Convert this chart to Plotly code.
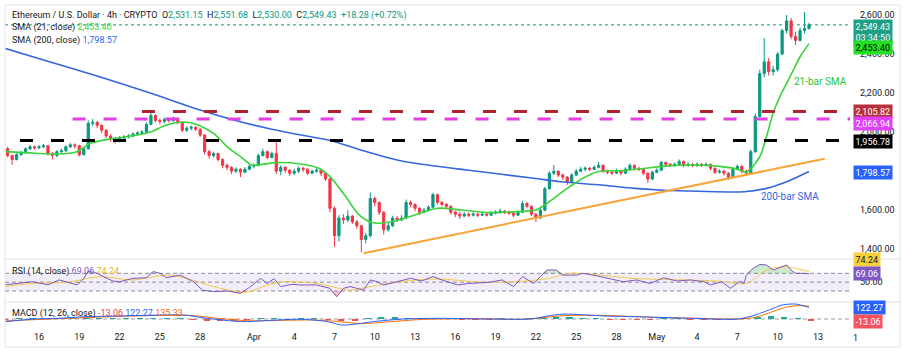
import numpy as np
import pandas as pd
import plotly.graph_objects as go

# ---------------- DATA ----------------
candle_start = "2025-03-13 16:00"   # 8h candles
first_open = 1915
closes = [1880,
          1860, 1885, 1895, 1915, 1925, 1920, 1925, 1930, 1890, 1880, 1900, 1905,
          1925, 1935, 1930, 1885, 1915, 2045, 2050, 2035, 2010, 1980, 1965, 1955,
          1970, 1975, 1980, 1990, 1995, 2000, 2040, 2085, 2060, 2055, 2065, 2060,
          2070, 2050, 2010, 2020, 2025, 2015, 1985, 1900, 1880, 1890, 1860, 1830,
          1820, 1800, 1810, 1795, 1810, 1825, 1830, 1880, 1900, 1870, 1890, 1800,
          1820, 1805, 1790, 1800, 1815, 1810, 1790, 1800, 1805, 1790, 1760, 1610,
          1470, 1560, 1550, 1570, 1540, 1520, 1450, 1470, 1660, 1640, 1590, 1500,
          1520, 1560, 1550, 1560, 1640, 1630, 1610, 1590, 1600, 1615, 1680, 1640,
          1630, 1620, 1590, 1580, 1570, 1580, 1575, 1580, 1575, 1580, 1575, 1585,
          1590, 1595, 1590, 1585, 1575, 1590, 1635, 1620, 1580, 1560, 1600, 1710,
          1790, 1800, 1780, 1770, 1745, 1780, 1800, 1810, 1815, 1810, 1820, 1830,
          1800, 1795, 1790, 1800, 1790, 1810, 1830, 1815, 1810, 1790, 1760, 1795,
          1805, 1845, 1835, 1830, 1835, 1850, 1830, 1835, 1830, 1835, 1830, 1835,
          1815, 1795, 1800, 1790, 1770, 1810, 1825, 1800, 1790, 1900, 2080, 2300,
          2360, 2310, 2320, 2400, 2520, 2570, 2490, 2470, 2520, 2531, 2549.43]
highs = [1925,
         1885, 1892, 1905, 1922, 1935, 1932, 1935, 1940, 1935, 1898, 1908, 1915,
         1932, 1945, 1942, 1935, 1925, 2060, 2068, 2058, 2040, 2015, 1990, 1975,
         1980, 1985, 1990, 2000, 2005, 2010, 2050, 2098, 2092, 2070, 2075, 2072,
         2080, 2075, 2055, 2030, 2035, 2030, 2020, 1990, 1910, 1900, 1895, 1865,
         1840, 1825, 1820, 1815, 1820, 1835, 1840, 1890, 1915, 1905, 1900, 1950,
         1830, 1825, 1810, 1812, 1825, 1822, 1815, 1808, 1815, 1812, 1795, 1765,
         1620, 1575, 1580, 1600, 1575, 1550, 1525, 1485, 1690, 1670, 1645, 1595,
         1535, 1572, 1570, 1575, 1655, 1650, 1635, 1615, 1612, 1625, 1690, 1685,
         1648, 1638, 1625, 1598, 1590, 1590, 1588, 1590, 1588, 1590, 1588, 1595,
         1600, 1608, 1602, 1598, 1590, 1600, 1648, 1642, 1625, 1585, 1610, 1720,
         1800, 1832, 1805, 1788, 1775, 1790, 1812, 1822, 1825, 1822, 1830, 1847,
         1835, 1808, 1800, 1812, 1808, 1820, 1840, 1835, 1822, 1815, 1795, 1802,
         1815, 1852, 1850, 1842, 1845, 1860, 1855, 1845, 1842, 1845, 1842, 1845,
         1838, 1820, 1810, 1808, 1795, 1818, 1835, 1830, 1808, 1910, 2095, 2320,
         2482, 2380, 2340, 2410, 2530, 2600, 2585, 2515, 2535, 2615, 2560]
lows = [1870,
        1832, 1855, 1878, 1890, 1908, 1910, 1912, 1918, 1880, 1860, 1872, 1890,
        1898, 1918, 1915, 1875, 1880, 1910, 2030, 2020, 1995, 1970, 1950, 1942,
        1948, 1960, 1968, 1975, 1982, 1988, 1995, 2035, 2050, 2040, 2045, 2048,
        2052, 2040, 2000, 2000, 2010, 2005, 1975, 1885, 1865, 1870, 1850, 1815,
        1805, 1785, 1790, 1770, 1790, 1805, 1815, 1825, 1875, 1860, 1865, 1785,
        1780, 1790, 1775, 1780, 1790, 1795, 1780, 1785, 1792, 1775, 1750, 1590,
        1412, 1440, 1530, 1540, 1530, 1505, 1385, 1430, 1460, 1620, 1575, 1475,
        1490, 1515, 1540, 1545, 1555, 1615, 1595, 1575, 1585, 1595, 1610, 1630,
        1620, 1605, 1578, 1565, 1555, 1565, 1565, 1568, 1565, 1570, 1568, 1570,
        1578, 1582, 1580, 1575, 1565, 1570, 1585, 1610, 1570, 1540, 1555, 1595,
        1705, 1780, 1770, 1755, 1730, 1740, 1775, 1795, 1800, 1800, 1805, 1815,
        1792, 1785, 1780, 1785, 1780, 1785, 1805, 1805, 1800, 1780, 1740, 1755,
        1790, 1800, 1825, 1820, 1822, 1830, 1820, 1822, 1820, 1822, 1820, 1825,
        1805, 1785, 1788, 1778, 1755, 1765, 1805, 1790, 1775, 1785, 1895, 2075,
        2280, 2290, 2290, 2310, 2395, 2505, 2475, 2446, 2465, 2505, 2525]

sma21_time = ["2025-03-13 12:00", "2025-03-15 16:00", "2025-03-17 08:00", "2025-03-18 20:00",
              "2025-03-19 20:00", "2025-03-21 16:00", "2025-03-23 08:00", "2025-03-24 08:00",
              "2025-03-25 12:00", "2025-03-26 20:00", "2025-03-27 20:00", "2025-03-29 00:00",
              "2025-03-30 00:00", "2025-03-31 04:00", "2025-03-31 20:00", "2025-04-02 16:00",
              "2025-04-04 12:00", "2025-04-05 20:00", "2025-04-06 16:00", "2025-04-07 20:00",
              "2025-04-08 20:00", "2025-04-09 20:00", "2025-04-11 08:00", "2025-04-13 00:00",
              "2025-04-14 16:00", "2025-04-16 12:00", "2025-04-18 12:00", "2025-04-20 16:00",
              "2025-04-22 00:00", "2025-04-22 20:00", "2025-04-24 04:00", "2025-04-25 12:00",
              "2025-04-26 16:00", "2025-04-28 12:00", "2025-04-30 04:00", "2025-05-01 20:00",
              "2025-05-03 12:00", "2025-05-05 08:00", "2025-05-07 00:00", "2025-05-07 16:00",
              "2025-05-08 16:00", "2025-05-09 04:00", "2025-05-09 16:00", "2025-05-10 04:00",
              "2025-05-10 16:00", "2025-05-11 04:00", "2025-05-11 16:00", "2025-05-12 08:00"]
sma21_vals = [1900, 1892, 1888, 1900, 1943, 1969, 1985, 2002, 2037, 2052, 2037, 1994,
              1926, 1866, 1832, 1844, 1837, 1815, 1772, 1670, 1576, 1536, 1542, 1576,
              1610, 1601, 1588, 1593, 1601, 1636, 1704, 1764, 1798, 1803, 1815, 1827,
              1832, 1827, 1810, 1795, 1874, 1977, 2098, 2182, 2250, 2318, 2386, 2453.40]

sma200_time = ["2025-03-13 08:00", "2025-03-16 08:00", "2025-03-20 12:00", "2025-03-24 08:00",
               "2025-03-28 00:00", "2025-03-30 12:00", "2025-04-02 00:00", "2025-04-04 12:00",
               "2025-04-06 20:00", "2025-04-08 20:00", "2025-04-11 20:00", "2025-04-14 08:00",
               "2025-04-16 20:00", "2025-04-21 20:00", "2025-04-23 20:00", "2025-04-26 20:00",
               "2025-04-29 08:00", "2025-05-01 04:00", "2025-05-04 04:00", "2025-05-07 12:00",
               "2025-05-09 04:00", "2025-05-10 16:00", "2025-05-12 08:00"]
sma200_vals = [2432, 2370, 2284, 2199, 2113, 2062, 2020, 1985, 1955, 1911, 1855, 1828,
               1806, 1764, 1746, 1729, 1712, 1704, 1697, 1695, 1712, 1746, 1798.57]

level_prices = [2105.82, 2066.94, 1956.78]
level_starts = ["2025-03-23 16:00", "2025-03-18 12:00", "2025-03-14 14:00"]

trend_time = ["2025-04-09 04:00", "2025-05-13 12:00"]
trend_vals = [1380, 1864]

rsi_time = ["2025-03-13 12:00", "2025-03-14 08:00", "2025-03-15 12:00", "2025-03-16 16:00",
            "2025-03-17 12:00", "2025-03-18 20:00", "2025-03-19 08:00", "2025-03-19 16:00",
            "2025-03-20 08:00", "2025-03-20 20:00", "2025-03-21 12:00", "2025-03-22 00:00",
            "2025-03-23 00:00", "2025-03-24 00:00", "2025-03-24 12:00", "2025-03-25 00:00",
            "2025-03-25 12:00", "2025-03-26 12:00", "2025-03-27 12:00", "2025-03-28 04:00",
            "2025-03-29 00:00", "2025-03-30 00:00", "2025-03-31 00:00", "2025-03-31 16:00",
            "2025-04-01 12:00", "2025-04-02 00:00", "2025-04-02 12:00", "2025-04-03 00:00",
            "2025-04-03 20:00", "2025-04-04 12:00", "2025-04-05 16:00", "2025-04-06 16:00",
            "2025-04-07 04:00", "2025-04-07 16:00", "2025-04-08 04:00", "2025-04-08 16:00",
            "2025-04-09 04:00", "2025-04-09 16:00", "2025-04-10 04:00", "2025-04-10 16:00",
            "2025-04-11 16:00", "2025-04-12 16:00", "2025-04-13 12:00", "2025-04-14 08:00",
            "2025-04-15 00:00", "2025-04-16 04:00", "2025-04-17 00:00", "2025-04-18 12:00",
            "2025-04-19 12:00", "2025-04-20 08:00", "2025-04-21 00:00", "2025-04-21 20:00",
            "2025-04-22 08:00", "2025-04-22 20:00", "2025-04-23 12:00", "2025-04-24 00:00",
            "2025-04-25 00:00", "2025-04-25 12:00", "2025-04-26 12:00", "2025-04-27 12:00",
            "2025-04-28 12:00", "2025-04-29 12:00", "2025-04-30 12:00", "2025-05-01 12:00",
            "2025-05-02 12:00", "2025-05-03 12:00", "2025-05-04 12:00", "2025-05-05 00:00",
            "2025-05-05 20:00", "2025-05-06 12:00", "2025-05-07 04:00", "2025-05-07 12:00",
            "2025-05-07 16:00", "2025-05-08 04:00", "2025-05-08 16:00", "2025-05-09 04:00",
            "2025-05-09 16:00", "2025-05-10 04:00", "2025-05-10 16:00", "2025-05-11 00:00",
            "2025-05-11 08:00", "2025-05-11 20:00", "2025-05-12 08:00"]
rsi_vals = [44, 47, 51, 44, 55, 44, 58, 75, 70, 62, 52.6, 51, 58.6, 60, 74, 70, 60, 66, 51, 32,
            28.5, 30, 24.7, 38, 58.6, 47, 58, 40, 45, 43.6, 43.6, 36, 17, 36, 40, 36, 32, 55,
            51, 43.6, 51, 58.7, 52.6, 62.5, 55, 43.6, 47, 49.6, 55, 40, 62.5, 47, 62.5, 77.5,
            77.5, 66, 66, 70, 64.7, 58.7, 51, 55, 47, 60, 52.6, 55, 51, 43.6, 51, 36, 52, 47,
            66, 81, 90, 89, 77.5, 83, 89, 77.5, 70, 70, 69.06]

rsi_ma_time = ["2025-03-13 12:00", "2025-03-15 12:00", "2025-03-18 04:00", "2025-03-20 12:00",
               "2025-03-23 00:00", "2025-03-25 12:00", "2025-03-27 00:00", "2025-03-29 00:00",
               "2025-03-31 00:00", "2025-03-31 16:00", "2025-04-02 00:00", "2025-04-03 04:00",
               "2025-04-05 16:00", "2025-04-08 04:00", "2025-04-09 16:00", "2025-04-11 20:00",
               "2025-04-14 16:00", "2025-04-18 00:00", "2025-04-20 12:00", "2025-04-23 00:00",
               "2025-04-24 12:00", "2025-04-26 20:00", "2025-04-29 04:00", "2025-05-03 00:00",
               "2025-05-05 12:00", "2025-05-07 16:00", "2025-05-08 12:00", "2025-05-09 04:00",
               "2025-05-09 20:00", "2025-05-10 16:00", "2025-05-11 12:00", "2025-05-12 08:00"]
rsi_ma_vals = [40, 47, 50, 62.5, 55, 66, 58.6, 40, 27, 28.5, 43.6, 51, 47, 32, 40, 51, 57, 50,
               51, 58.7, 70, 66, 58.7, 55, 52.6, 47, 62.5, 77.5, 83, 85, 80, 74.24]

macd_time = ["2025-03-13 12:00", "2025-03-15 16:00", "2025-03-17 08:00", "2025-03-19 12:00",
             "2025-03-21 16:00", "2025-03-25 04:00", "2025-03-26 20:00", "2025-03-28 12:00",
             "2025-03-31 04:00", "2025-04-01 20:00", "2025-04-04 12:00", "2025-04-06 12:00",
             "2025-04-07 12:00", "2025-04-08 16:00", "2025-04-09 20:00", "2025-04-12 04:00",
             "2025-04-14 16:00", "2025-04-18 12:00", "2025-04-21 12:00", "2025-04-23 08:00",
             "2025-04-24 04:00", "2025-04-27 04:00", "2025-04-29 08:00", "2025-05-03 12:00",
             "2025-05-07 00:00", "2025-05-08 08:00", "2025-05-09 16:00", "2025-05-10 08:00",
             "2025-05-11 08:00", "2025-05-12 08:00"]
macd_vals = [-28, 0, 7, 24, 31, 42, 42, 7, -28, -17, -3, -28, -63, -52, -28, 0, 7, 0, 0, 42,
             52, 31, 24, 7, 0, 42, 112, 147, 157, 122.27]

signal_time = ["2025-03-13 12:00", "2025-03-16 00:00", "2025-03-19 00:00", "2025-03-22 00:00",
               "2025-03-25 12:00", "2025-03-27 12:00", "2025-03-29 12:00", "2025-03-31 12:00",
               "2025-04-03 00:00", "2025-04-05 12:00", "2025-04-07 12:00", "2025-04-09 00:00",
               "2025-04-11 00:00", "2025-04-13 12:00", "2025-04-17 00:00", "2025-04-21 12:00",
               "2025-04-24 00:00", "2025-04-27 00:00", "2025-04-30 00:00", "2025-05-04 00:00",
               "2025-05-07 12:00", "2025-05-08 16:00", "2025-05-09 16:00", "2025-05-10 16:00",
               "2025-05-11 12:00", "2025-05-12 08:00"]
signal_vals = [-20, -5, 12, 28, 38, 35, 5, -18, -15, -10, -30, -48, -30, -5, 3, 0, 35, 38, 22,
               8, 2, 30, 80, 125, 140, 135.33]

hist_start = "2025-03-13 12:00"   # daily bars
hist_vals = [-6, 3, 5, 6, 4, 2, 8, 10, 4, 3, 3, 6, 5, 3, -5, -12, -14, -12, -10,
             3, 4, -2, 5, 4, -6, -25, -15, 5, 12, 14, 10, 6, 5, 2, -2, -2, -1, 1, 0, 2,
             18, 20, 12, 6, 2, -3, -4, -3, -5,
             2, 1, -1, -2, -3, -4, 3, 25, 35, 25, 8, -13.06]

x_tick_dates = ["2025-03-16", "2025-03-19", "2025-03-22", "2025-03-25", "2025-03-28",
                "2025-04-01", "2025-04-04", "2025-04-07", "2025-04-10", "2025-04-13",
                "2025-04-16", "2025-04-19", "2025-04-22", "2025-04-25", "2025-04-28",
                "2025-05-01", "2025-05-04", "2025-05-07", "2025-05-10", "2025-05-13"]
x_tick_text = ["16", "19", "22", "25", "28", "Apr", "4", "7", "10", "13", "16", "19", "22",
               "25", "28", "May", "4", "7", "10", "13"]
extra_tick_text = "1"

price_ticks = [1400, 1600, 2000, 2200, 2400, 2600]
ohlc_text = {"O": "2,531.15", "H": "2,551.68", "L": "2,530.00", "C": "2,549.43"}
change_text = "+18.28 (+0.72%)"
last_price = 2549.43
countdown = "03:34:50"
sma21_last = 2453.40
sma200_last = 1798.57
rsi_last = 69.06
rsi_ma_last = 74.24
macd_last = 122.27
signal_last = 135.33
hist_last = -13.06

# ---------------- STYLE ----------------
UP, DOWN = "#089981", "#f23645"
GREEN_SMA, BLUE_SMA = "#3ad43a", "#3566e0"
LEVEL_COLORS = ["#b2222f", "#e43fe4", "#000000"]
LEVEL_BOX = ["#b8313a", "#e040fb", "#000000"]
ORANGE = "#f7a43a"
RSI_C, RSI_MA_C = "#7e57c2", "#f4c84a"
MACD_C, SIG_C = "#2962ff", "#ff6d00"
FONT = "Roboto, Liberation Sans, Arial, sans-serif"
TXT = "#131722"

W, H = 903, 351
ML, MR, MT, MB = 5, 53, 5, 21
PW = W - ML - MR
dom_main = [71 / 325, 1]
dom_rsi = [28 / 325, 71 / 325]
dom_macd = [0, 28 / 325]

# ---------------- BUILD ----------------
candle_time = pd.date_range(candle_start, periods=len(closes), freq="8h")
opens = [first_open] + closes[:-1]
hist_time = pd.date_range(hist_start, periods=len(hist_vals), freq="D")

fig = go.Figure()
fig.add_trace(go.Candlestick(
    x=candle_time, open=opens, high=highs, low=lows, close=closes,
    increasing=dict(line=dict(color=UP, width=1), fillcolor=UP),
    decreasing=dict(line=dict(color=DOWN, width=1), fillcolor=DOWN),
    whiskerwidth=0, showlegend=False, hoverinfo="skip", xaxis="x", yaxis="y"))

fig.add_trace(go.Scatter(x=sma200_time, y=sma200_vals, mode="lines",
                         line=dict(color=BLUE_SMA, width=1.6, shape="spline", smoothing=0.8),
                         showlegend=False, hoverinfo="skip", xaxis="x", yaxis="y"))
fig.add_trace(go.Scatter(x=sma21_time, y=sma21_vals, mode="lines",
                         line=dict(color=GREEN_SMA, width=1.6, shape="spline", smoothing=0.8),
                         showlegend=False, hoverinfo="skip", xaxis="x", yaxis="y"))
fig.add_trace(go.Scatter(x=trend_time, y=trend_vals, mode="lines",
                         line=dict(color=ORANGE, width=2),
                         showlegend=False, hoverinfo="skip", xaxis="x", yaxis="y"))

# RSI panel
rsi_arr = np.array(rsi_vals, dtype=float)
fig.add_trace(go.Scatter(x=rsi_time, y=[70] * len(rsi_time), mode="lines",
                         line=dict(width=0), showlegend=False, hoverinfo="skip",
                         xaxis="x", yaxis="y2"))
fig.add_trace(go.Scatter(x=rsi_time, y=np.maximum(rsi_arr, 70), mode="lines",
                         line=dict(width=0), fill="tonexty", fillcolor="rgba(76,175,80,0.28)",
                         showlegend=False, hoverinfo="skip", xaxis="x", yaxis="y2"))
fig.add_trace(go.Scatter(x=rsi_time, y=[30] * len(rsi_time), mode="lines",
                         line=dict(width=0), showlegend=False, hoverinfo="skip",
                         xaxis="x", yaxis="y2"))
fig.add_trace(go.Scatter(x=rsi_time, y=np.minimum(rsi_arr, 30), mode="lines",
                         line=dict(width=0), fill="tonexty", fillcolor="rgba(242,54,69,0.28)",
                         showlegend=False, hoverinfo="skip", xaxis="x", yaxis="y2"))
fig.add_trace(go.Scatter(x=rsi_ma_time, y=rsi_ma_vals, mode="lines",
                         line=dict(color=RSI_MA_C, width=1, shape="spline", smoothing=0.8),
                         showlegend=False, hoverinfo="skip", xaxis="x", yaxis="y2"))
fig.add_trace(go.Scatter(x=rsi_time, y=rsi_vals, mode="lines",
                         line=dict(color=RSI_C, width=1),
                         showlegend=False, hoverinfo="skip", xaxis="x", yaxis="y2"))

# MACD panel
fig.add_trace(go.Bar(x=hist_time, y=hist_vals, width=0.45 * 86400000,
                     marker=dict(color=["#26a69a" if v >= 0 else "#ef5350" for v in hist_vals],
                                 line=dict(width=0)),
                     showlegend=False, hoverinfo="skip", xaxis="x", yaxis="y3"))
fig.add_trace(go.Scatter(x=signal_time, y=signal_vals, mode="lines",
                         line=dict(color=SIG_C, width=1, shape="spline", smoothing=0.8),
                         showlegend=False, hoverinfo="skip", xaxis="x", yaxis="y3"))
fig.add_trace(go.Scatter(x=macd_time, y=macd_vals, mode="lines",
                         line=dict(color=MACD_C, width=1, shape="spline", smoothing=0.8),
                         showlegend=False, hoverinfo="skip", xaxis="x", yaxis="y3"))

x_end = "2025-05-15 09:17"
shapes = []
for p, s, c in zip(level_prices, level_starts, LEVEL_COLORS):
    shapes.append(dict(type="line", xref="x", yref="y", x0=s, x1=x_end, y0=p, y1=p,
                       line=dict(color=c, width=3, dash="13px,18px"), layer="above"))
shapes.append(dict(type="line", xref="paper", yref="y", x0=0, x1=1, y0=last_price,
                   y1=last_price, line=dict(color=UP, width=1, dash="dot"), layer="below"))
# RSI band and levels
shapes.append(dict(type="rect", xref="paper", yref="y2", x0=0, x1=1, y0=30, y1=70,
                   fillcolor="rgba(126,87,194,0.10)", line=dict(width=0), layer="below"))
for lv in (70, 50, 30):
    shapes.append(dict(type="line", xref="paper", yref="y2", x0=0, x1=1, y0=lv, y1=lv,
                       line=dict(color="#8a8d96", width=1, dash="4px,3px"), layer="below"))
shapes.append(dict(type="line", xref="paper", yref="y3", x0=0, x1=1, y0=0, y1=0,
                   line=dict(color="#9a9da6", width=1, dash="4px,3px"), layer="below"))
# panel separators and frame
xr = (900 - ML) / PW
for yy in (dom_rsi[1], dom_rsi[0]):
    shapes.append(dict(type="line", xref="paper", yref="paper", x0=0, x1=xr, y0=yy, y1=yy,
                       line=dict(color="#dfe2ea", width=1)))
yb = -(347 - (H - MB)) / (H - MT - MB)
shapes.append(dict(type="rect", xref="paper", yref="paper", x0=0, x1=xr, y0=yb, y1=1,
                   line=dict(color="#e3e5ea", width=1), fillcolor="rgba(0,0,0,0)"))

ann = []
val = lambda t: f'<span style="color:{UP}">{t}</span>'
line1 = ("Ethereum / U.S. Dollar · 4h · CRYPTO  "
         + "  ".join(f"{k}{val(v)}" for k, v in ohlc_text.items())
         + "  " + val(change_text))
ann.append(dict(text=line1, xref="paper", yref="paper", x=0, y=1, xanchor="left",
                yanchor="middle", xshift=5, yshift=-10, showarrow=False,
                font=dict(family=FONT, size=9, color=TXT)))
ann.append(dict(text=f'SMA (21, close) <span style="color:{GREEN_SMA}">{sma21_last:,.2f}</span>',
                xref="paper", yref="paper", x=0, y=1, xanchor="left", yanchor="middle",
                xshift=5, yshift=-22.5, showarrow=False, font=dict(family=FONT, size=9, color=TXT)))
ann.append(dict(text=f'SMA (200, close) <span style="color:{MACD_C}">{sma200_last:,.2f}</span>',
                xref="paper", yref="paper", x=0, y=1, xanchor="left", yanchor="middle",
                xshift=5, yshift=-35, showarrow=False, font=dict(family=FONT, size=9, color=TXT)))
ann.append(dict(text=(f'RSI (14, close) <span style="color:{RSI_C}">{rsi_last:.2f}</span> '
                      f'<span style="color:#e8b923">{rsi_ma_last:.2f}</span>'),
                xref="paper", yref="paper", x=0, y=dom_rsi[1], xanchor="left", yanchor="middle",
                xshift=5, yshift=-12, showarrow=False, font=dict(family=FONT, size=9, color=TXT)))
ann.append(dict(text=(f'MACD (12, 26, close) <span style="color:{DOWN}">{hist_last:.2f}</span> '
                      f'<span style="color:{MACD_C}">{macd_last:.2f}</span> '
                      f'<span style="color:{SIG_C}">{signal_last:.2f}</span>'),
                xref="paper", yref="paper", x=0, y=dom_macd[1], xanchor="left", yanchor="middle",
                xshift=5, yshift=-11, showarrow=False, font=dict(family=FONT, size=9, color=TXT)))

# chart labels
ann.append(dict(text="21-bar SMA", xref="x", yref="y", x="2025-05-13 04:00", y=2257,
                showarrow=False, font=dict(family=FONT, size=10, color="#2fc42f")))
ann.append(dict(text="200-bar SMA", xref="x", yref="y", x="2025-05-10 22:00", y=1668,
                showarrow=False, font=dict(family=FONT, size=10, color=BLUE_SMA)))


def box(text, yref, y, bg, fg="#ffffff", yshift=0):
    return dict(text=text, xref="paper", yref=yref, x=1, y=y, xanchor="left", yanchor="middle",
                xshift=3, yshift=yshift, showarrow=False, bgcolor=bg, borderpad=1.5,
                font=dict(family=FONT, size=9, color=fg))


ann.append(dict(text=f"{last_price:,.2f}<br>{countdown}", xref="paper", yref="y", x=1,
                y=last_price, xanchor="left", yanchor="top", xshift=3, yshift=6,
                showarrow=False, bgcolor="#1e9f86", borderpad=1.5,
                font=dict(family=FONT, size=9, color="#ffffff")))
ann.append(box(f"{sma21_last:,.2f}", "y", sma21_last, "#22e022", "#000000", yshift=-4))
for p, bg, sh in zip(level_prices, LEVEL_BOX, (0, -4, -1)):
    ann.append(box(f"{p:,.2f}", "y", p, bg, yshift=sh))
ann.append(box(f"{sma200_last:,.2f}", "y", sma200_last, "#2962ff", yshift=-1))
ann.append(box(f"{rsi_ma_last:.2f}", "y2", rsi_ma_last, "#f7d13c", TXT, yshift=12))
ann.append(box(f"{rsi_last:.2f}", "y2", rsi_last, RSI_C))
ann.append(box(f"{macd_last:.2f}", "y3", macd_last, "#2962ff"))
ann.append(box(f"{hist_last:.2f}", "y3", hist_last, "#f7525f", yshift=-1))
# trailing time-axis label shown under the price scale edge
ann.append(dict(text=extra_tick_text, xref="paper", yref="paper", x=(855 - ML) / PW, y=0,
                yshift=-8, xanchor="center", yanchor="middle", showarrow=False,
                font=dict(family=FONT, size=9, color=TXT)))

fig.update_layout(
    width=W, height=H, margin=dict(l=ML, r=MR, t=MT, b=MB),
    paper_bgcolor="#ffffff", plot_bgcolor="#ffffff",
    showlegend=False, bargap=0,
    font=dict(family=FONT, size=9, color=TXT),
    xaxis=dict(type="date", domain=[0, 1], anchor="y3", range=["2025-03-13 11:14", x_end],
               tickvals=x_tick_dates, ticktext=x_tick_text, showgrid=False, zeroline=False,
               ticks="", showline=False, rangeslider=dict(visible=False),
               tickfont=dict(family=FONT, size=9, color=TXT)),
    yaxis=dict(domain=dom_main, range=[1350.3, 2651.2], side="right", anchor="x",
               tickvals=price_ticks, ticktext=[f"{v:,.2f}" for v in price_ticks],
               showgrid=False, zeroline=False, ticks="", ticklabelstandoff=9,
               tickfont=dict(family=FONT, size=9, color=TXT)),
    yaxis2=dict(domain=dom_rsi, range=[5.1, 102.4], side="right", anchor="x",
                tickvals=[50], ticktext=["50.00"], showgrid=False, zeroline=False, ticks="",
                ticklabelstandoff=9, tickfont=dict(family=FONT, size=9, color=TXT)),
    yaxis3=dict(domain=dom_macd, range=[-115.5, 178.5], side="right", anchor="x",
                showticklabels=False, showgrid=False, zeroline=False, ticks=""),
    shapes=shapes, annotations=ann,
)

fig.write_html("out.html")
